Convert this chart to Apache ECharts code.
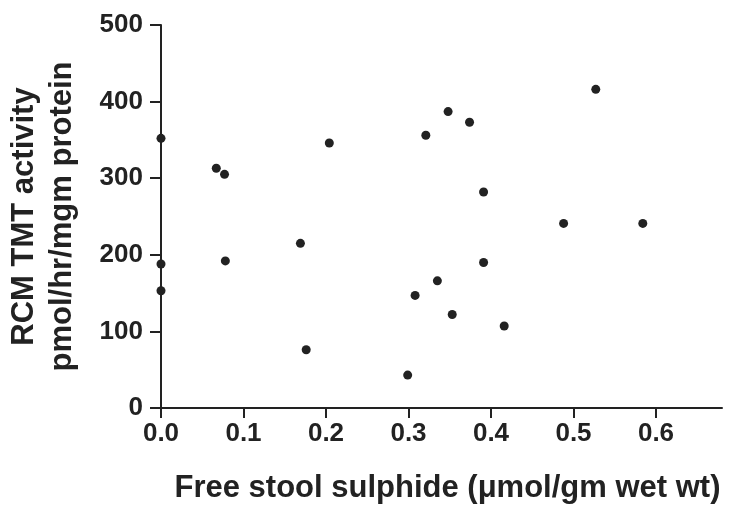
<!DOCTYPE html>
<html>
<head>
<meta charset="utf-8">
<script src="https://cdn.jsdelivr.net/npm/echarts@6/dist/echarts.min.js"></script>
<style>
html,body{margin:0;padding:0;background:#fff;}
#chart{width:731px;height:506px;}
</style>
</head>
<body>
<div id="chart"></div>
<script>
// Data
const sulphide = [0.000, 0.000, 0.000, 0.067, 0.077, 0.204, 0.078, 0.169, 0.176, 0.321, 0.348, 0.374, 0.527, 0.391, 0.488, 0.584, 0.391, 0.335, 0.308, 0.353, 0.416, 0.299];
const tmtActivity = [352, 188, 153, 313, 305, 346, 192, 215, 76, 356, 387, 373, 416, 282, 241, 241, 190, 166, 147, 122, 107, 43];
const xTicks = [0, 0.1, 0.2, 0.3, 0.4, 0.5, 0.6];
const yTicks = [0, 100, 200, 300, 400, 500];
const xTitle = 'Free stool sulphide (\u03bcmol/gm wet wt)';
const yTitle = 'RCM TMT activity\npmol/hr/mgm protein';

const points = sulphide.map((x, i) => [x, tmtActivity[i]]);
const font = 'Liberation Sans, Arial, Helvetica, sans-serif';
const ink = '#222';

const chart = echarts.init(document.getElementById('chart'), null, {renderer: 'canvas'});
chart.setOption({
  animation: false,
  backgroundColor: '#fff',
  grid: {left: 161, right: 9, top: 25, bottom: 98, containLabel: false, outerBoundsMode: 'none'},
  xAxis: {
    type: 'value', min: 0, max: 0.68,
    splitLine: {show: false},
    axisLine: {lineStyle: {color: ink, width: 2}},
    axisTick: {show: true, length: 10, customValues: xTicks, lineStyle: {color: ink, width: 2}},
    axisLabel: {customValues: xTicks, margin: 13, color: ink, fontFamily: font, fontWeight: 'bold', fontSize: 26,
      formatter: v => v.toFixed(1)},
    name: xTitle, nameLocation: 'middle', nameGap: 65,
    nameTextStyle: {color: ink, fontFamily: font, fontWeight: 'bold', fontSize: 31, padding: [0, 0, 0, 12]}
  },
  yAxis: {
    type: 'value', min: 0, max: 500,
    splitLine: {show: false},
    axisLine: {show: true, lineStyle: {color: ink, width: 2}},
    axisTick: {show: true, length: 11, customValues: yTicks, lineStyle: {color: ink, width: 2}},
    axisLabel: {customValues: yTicks, margin: 18, color: ink, fontFamily: font, fontWeight: 'bold', fontSize: 26},
    name: yTitle, nameLocation: 'middle', nameRotate: 90, nameGap: 80,
    nameTextStyle: {color: ink, fontFamily: font, fontWeight: 'bold', fontSize: 31, lineHeight: 38, align: 'center'}
  },
  series: [{
    type: 'scatter',
    data: points,
    symbol: 'circle',
    symbolSize: 9,
    itemStyle: {color: ink, opacity: 1},
    z: 5
  }]
});
</script>
</body>
</html>
